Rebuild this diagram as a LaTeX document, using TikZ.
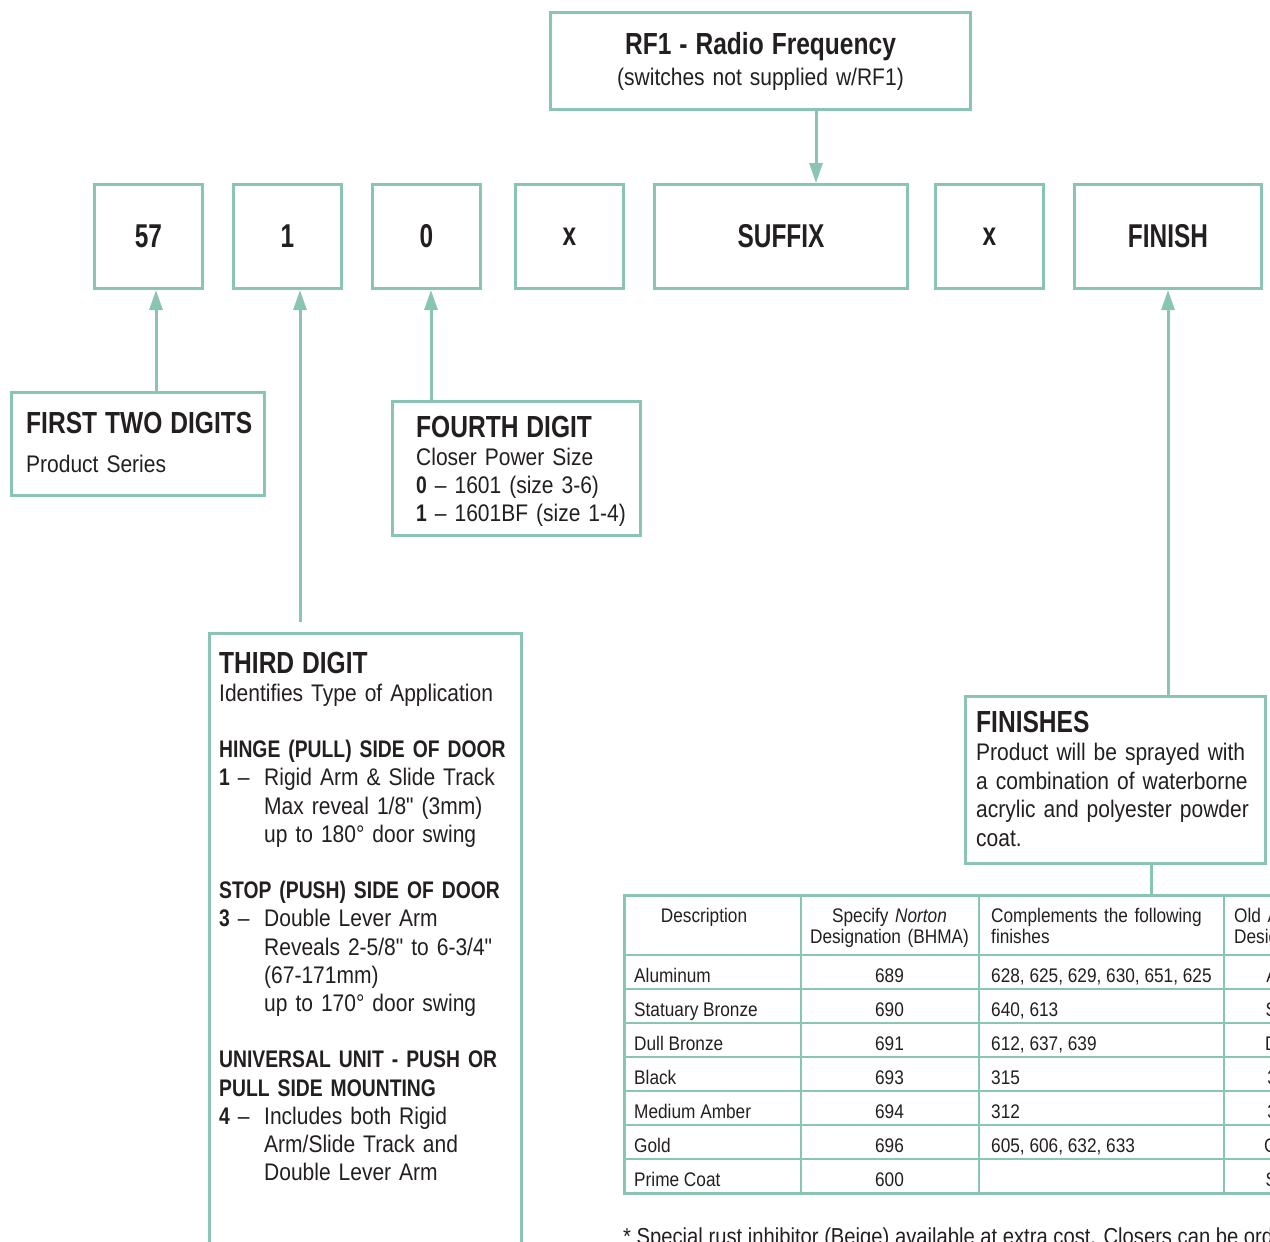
\documentclass[tikz,border=0pt]{standalone}
\usepackage{fontspec}
\usepackage{tikz}
\usetikzlibrary{positioning, arrows.meta}
\setmainfont{Liberation Sans}[FakeStretch=0.875, Ligatures=TeXOff]
\newfontfamily\condfont{Liberation Sans}[FakeStretch=0.805, Ligatures=TeXOff]
\newfontfamily\codefont{Liberation Sans}[FakeStretch=0.74, Ligatures=TeXOff]
\definecolor{finteal}{RGB}{138,196,181}
\definecolor{ink}{RGB}{35,31,32}
\newcommand{\hd}[1]{{\condfont\bfseries #1}}
\newcommand{\boxhead}[1]{{\condfont\bfseries\fontsize{30.5}{30.5}\selectfont #1}}
\newcommand{\numlab}[1]{\makebox[45pt][l]{\hd{#1} –}}
\tikzset{
        node distance=28pt, % gap between the code boxes
        every node/.style={text=ink},
        code box/.style={
		draw=finteal,
		line width=3pt,
		minimum width={#1},
		minimum height=104pt,
		inner sep=0pt,
		font=\codefont\bfseries\fontsize{33}{33}\selectfont,
	  },
        info box/.style={
		draw=finteal,
		line width=3pt,
		inner sep=0pt,
	  },
        info text/.style={
		anchor=base west,
		inner sep=0pt,
		text width={#1},
		align=left,
		font=\fontsize{24}{28.2}\selectfont,
	  },
        pointer/.style={
		draw=finteal,
		line width=3pt,
		-{Triangle[length=20pt, width=13pt]},
	  },
        link/.style={draw=finteal, line width=3pt},
        grid line/.style={draw=finteal, line width=2.5pt},
        cell/.style={inner sep=0pt, font=\fontsize{19.7}{21}\selectfont},
    }

\begin{document}
\begin{tikzpicture}[x=1pt, y=-1pt]
    \useasboundingbox (0,0) rectangle (1270,1242);
    \clip (0,0) rectangle (1270,1242);
    % code row
    \node [code box=108pt] (d57) at (148.5,236.5) {57};
    \node [code box=108pt, right=of d57] (d1) {1};
    \node [code box=108pt, right=of d1] (d0) {0};
    \node [code box=108pt, right=of d0, xshift=4pt] (xa) {x};
    \node [code box=253pt, right=of xa] (sfx) {SUFFIX};
    \node [code box=108pt, right=of sfx, xshift=-3pt] (xb) {x};
    \node [code box=187pt, right=of xb] (finish) {FINISH};
    % radio frequency option
    \node [info box, minimum width=420pt, minimum height=97pt] (rf1) at (760.5,61) {};
    \node [info text=420pt, align=center, anchor=base] (rf1txt) at ([yshift=-43pt]rf1.north)
      {\boxhead{RF1 - Radio Frequency}\\[3pt] (switches not supplied w/RF1)};
    % first two digits
    \node [info box, minimum width=253pt, minimum height=103pt] (first) at (138,444) {};
    \node [info text=240pt] (firsttxt) at ([xshift=16pt, yshift=-42pt]first.north west)
      {\boxhead{FIRST TWO DIGITS}\\[11pt] Product Series};
    % fourth digit
    \node [info box, minimum width=248pt, minimum height=134pt] (fourth) at (516.5,468.5) {};
    \node [info text=230pt, font=\fontsize{24}{28}\selectfont] (fourthtxt) at ([xshift=25pt, yshift=-37pt]fourth.north west)
      {\boxhead{FOURTH DIGIT}\\
       Closer Power Size\\
       \hd{0} – 1601 (size 3-6)\\
       \hd{1} – 1601BF (size 1-4)};
    % third digit
    \node [info box, minimum width=312pt, minimum height=700pt] (third) at (365.5,983.5) {};
    \node [info text=300pt] (thirdtxt) at ([xshift=11pt, yshift=-41pt]third.north west)
      {\boxhead{THIRD DIGIT}\\
       Identifies Type of Application\\[28.2pt]
       \hd{HINGE (PULL) SIDE OF DOOR}\\
       \numlab{1}Rigid Arm \& Slide Track\\
       \hspace*{45pt}Max reveal 1/8" (3mm)\\
       \hspace*{45pt}up to 180° door swing\\[28.2pt]
       \hd{STOP (PUSH) SIDE OF DOOR}\\
       \numlab{3}Double Lever Arm\\
       \hspace*{45pt}Reveals 2-5/8" to 6-3/4"\\
       \hspace*{45pt}(67-171mm)\\
       \hspace*{45pt}up to 170° door swing\\[28.2pt]
       \hd{UNIVERSAL UNIT - PUSH OR}\\
       \hd{PULL SIDE MOUNTING}\\
       \numlab{4}Includes both Rigid\\
       \hspace*{45pt}Arm/Slide Track and\\
       \hspace*{45pt}Double Lever Arm};
    % finishes
    \node [info box, minimum width=300pt, minimum height=167pt] (finishes) at (1115.5,780) {};
    \node [info text=290pt, font=\fontsize{24}{28.5}\selectfont] (finishtxt) at ([xshift=12pt, yshift=-37pt]finishes.north west)
      {\boxhead{FINISHES}\\
       Product will be sprayed with\\
       a combination of waterborne\\
       acrylic and polyester powder\\
       coat.};
    % finish table
    \node [info box, line width=2.5pt, minimum width=720pt, minimum height=298pt, anchor=north west] (tbl) at (623,894) {};
    \foreach \y in {955,989,...,1159}
      \draw [grid line] (tbl.west |- 0,\y) -- (tbl.east |- 0,\y);
    \foreach \x in {801,979,1224}
      \draw [grid line] (tbl.north -| \x,0) -- (tbl.south -| \x,0);
    \node [cell, anchor=base] (h1) at (704,922) {Description};
    \node [cell, anchor=base, text width=178pt, align=center] (h2) at (889.5,922) {Specify \textit{Norton}\\Designation (BHMA)};
    \node [cell, anchor=base west, text width=230pt, align=left] (h3) at (991,922) {Complements the following\\finishes};
    \node [cell, anchor=base west, text width=150pt, align=left] (h4) at (1234,922) {Old Alpha\\Designation};
    \foreach \desc/\bhma/\comp/\old [count=\r] in {
        Aluminum/689/{628, 625, 629, 630, 651, 625}/AL,
        Statuary Bronze/690/{640, 613}/SB,
        Dull Bronze/691/{612, 637, 639}/DB,
        Black/693/{315}/30,
        Medium Amber/694/{312}/35,
        Gold/696/{605, 606, 632, 633}/GD,
        Prime Coat/600/{}/SP}
    {
      \node [cell, anchor=base west] (desc\r) at (634,{955+34*\r-7}) {\desc};
      \node [cell, anchor=base] (bhma\r) at (889.5,{955+34*\r-7}) {\bhma};
      \node [cell, anchor=base west] (comp\r) at (991,{955+34*\r-7}) {\comp};
      \node [cell, anchor=base] (old\r) at (1277,{955+34*\r-7}) {\old};
    }
    \node [inner sep=0pt, anchor=base west, font=\fontsize{23.1}{26}\selectfont] (note) at (623,1244)
      {* Special rust inhibitor (Beige) available at extra cost. Closers can be ordered};
    % connectors
    \coordinate (rfx) at ([xshift=55.5pt]rf1.south);
    \draw [pointer] (rfx) -- (rfx |- sfx.north);
    \coordinate (fx) at ([xshift=18pt]first.north);
    \draw [pointer] (fx) -- (fx |- d57.south);
    \coordinate (ox) at ([xshift=4.5pt]d0.south);
    \draw [pointer] (ox |- fourth.north) -- (ox);
    \coordinate (hx) at ([xshift=12.5pt]d1.south);
    \coordinate (hy) at ([yshift=10pt]third.north);
    \draw [pointer] (hx |- hy) -- (hx);
    \draw [pointer] (finish.south |- finishes.north) -- (finish.south);
    \coordinate (tx) at ([xshift=35.5pt]finishes.south);
    \draw [link] (tx) -- (tx |- tbl.north);
  \end{tikzpicture}
\end{document}
